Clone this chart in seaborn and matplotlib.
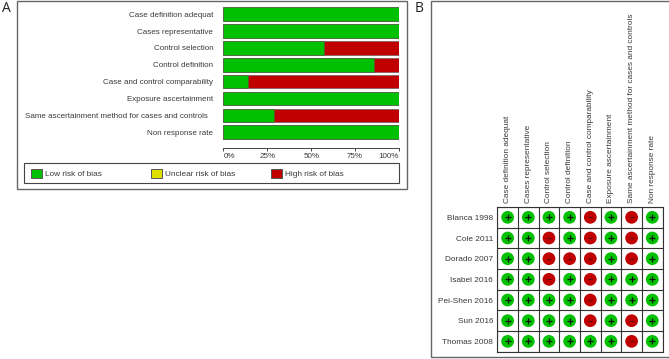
import matplotlib
matplotlib.use("Agg")
import matplotlib.pyplot as plt
from matplotlib.patches import Rectangle, Patch
from matplotlib.transforms import ScaledTranslation
import numpy as np
import pandas as pd
import seaborn as sns

domains = ["Case definition adequat", "Cases representative", "Control selection",
           "Control definition", "Case and control comparability", "Exposure ascertainment",
           "Same ascertainment method for cases and controls", "Non response rate"]
low_pct = [100, 100, 57.1, 85.7, 14.3, 100, 28.6, 100]
high_pct = [0, 0, 42.9, 14.3, 85.7, 0, 71.4, 0]
pct_ticks = [0, 25, 50, 75, 100]
pct_labels = ["0%", "25%", "50%", "75%", "100%"]
legend_labels = ["Low risk of bias", "Unclear risk of bias", "High risk of bias"]
studies = ["Blanca 1998", "Cole 2011", "Dorado 2007", "Isabel 2016",
           "Pei-Shen 2016", "Sun 2016", "Thomas 2008"]
blanca = ["+", "+", "+", "+", "-", "+", "-", "+"]
cole = ["+", "+", "-", "+", "-", "+", "-", "+"]
dorado = ["+", "+", "-", "-", "-", "+", "-", "+"]
isabel = ["+", "+", "-", "+", "-", "+", "+", "+"]
peishen = ["+", "+", "+", "+", "-", "+", "+", "+"]
sun = ["+", "+", "+", "+", "-", "+", "-", "+"]
thomas = ["+", "+", "+", "+", "+", "+", "-", "+"]
ratings = [blanca, cole, dorado, isabel, peishen, sun, thomas]

GREEN, YELLOW, RED = "#00C000", "#E0E000", "#C00000"
TEXT = "#3a3a3a"
W, H = 669, 359
FS_A = 5.8
FS_B = 5.95

sns.set_theme(style="white")
plt.rcParams["font.family"] = ["Liberation Sans", "DejaVu Sans"]
plt.rcParams["font.size"] = FS_A

fig = plt.figure(figsize=(W / 100, H / 100), dpi=100, facecolor="white")


def px_axes(x0, y0, x1, y1):
    return fig.add_axes([x0 / W, 1 - y1 / H, (x1 - x0) / W, (y1 - y0) / H])


def frame(x0, y0, x1, y1, **kw):
    fig.add_artist(Rectangle((x0 / W, 1 - y1 / H), (x1 - x0) / W, (y1 - y0) / H,
                             transform=fig.transFigure, fill=False, **kw))


frame(17, 0.8, 407.5, 189.2, edgecolor="#666666", linewidth=1.0)
frame(430.5, 1, 672, 357, edgecolor="#666666", linewidth=1.0)
fig.text(1.5 / W, 1 - 8.5 / H, "A", fontsize=10, color="#222222", va="center",
         family=["Open Sans", "DejaVu Sans"])
fig.text(414.5 / W, 1 - 8.5 / H, "B", fontsize=10, color="#222222", va="center",
         family=["Open Sans", "DejaVu Sans"])

# Panel A: stacked summary bars
ax = px_axes(223.3, 5.8, 399, 140.6)
total = [a + b for a, b in zip(low_pct, high_pct)]
df = pd.DataFrame({"domain": domains, "total": total, "low": low_pct})
sns.barplot(data=df, y="domain", x="total", color=RED, saturation=1, width=0.8,
            edgecolor="#555555", linewidth=0.4, ax=ax)
sns.barplot(data=df, y="domain", x="low", color=GREEN, saturation=1, width=0.8,
            edgecolor="#555555", linewidth=0.4, ax=ax)
ax.set_xlim(0, 100)
ax.set_xlabel("")
ax.set_ylabel("")
for s in ["top", "right", "left"]:
    ax.spines[s].set_visible(False)
ax.spines["bottom"].set_position(("outward", 5.4))
ax.spines["bottom"].set_color("#444444")
ax.spines["bottom"].set_linewidth(0.7)
ax.set_xticks(pct_ticks)
ax.set_xticklabels(pct_labels)
ax.tick_params(axis="x", bottom=True, length=2.5, width=0.7, color="#444444",
               labelsize=FS_A, labelcolor=TEXT, pad=1.0)
xlabels = ax.get_xticklabels()
xlabels[0].set_ha("left")
xlabels[-1].set_ha("right")
ax.tick_params(axis="y", left=False, length=0, labelsize=FS_A, labelcolor=TEXT, pad=7.2)
same = ax.get_yticklabels()[6]
same.set_transform(same.get_transform() + ScaledTranslation(-3.6 / 72, 0, fig.dpi_scale_trans))

# legend strip: one frame, three evenly spaced entries
frame(24.5, 163.3, 399.5, 183.3, edgecolor="#444444", linewidth=0.8)
for x, label, c in zip([31, 151, 271], legend_labels, (GREEN, YELLOW, RED)):
    fig.legend([Patch(facecolor=c, edgecolor="#555555", linewidth=0.7)], [label],
               loc="center left", bbox_to_anchor=(x / W, 1 - 173.3 / H),
               frameon=False, fontsize=FS_B, labelcolor=TEXT, borderaxespad=0, borderpad=0,
               handlelength=1.35, handleheight=1.35, handletextpad=0.3)

# Panel B: traffic-light grid
bx = px_axes(497.3, 207, 662.6, 351.7)
records = [{"study": i, "domain": j, "rating": r}
           for i, row in enumerate(ratings) for j, r in enumerate(row)]
grid = pd.DataFrame(records)
sns.scatterplot(data=grid, x="domain", y="study", hue="rating",
                palette={"+": GREEN, "-": RED}, s=84, linewidth=0, legend=False,
                ax=bx, clip_on=False, zorder=3)
sns.scatterplot(data=grid[grid.rating == "+"], x="domain", y="study", marker="+",
                color="#111111", s=14, linewidth=0.9, ax=bx, zorder=4)
sns.scatterplot(data=grid[grid.rating == "-"], x="domain", y="study", marker="_",
                color="#5a1010", s=12, linewidth=0.8, ax=bx, zorder=4)
bx.set_xlim(-0.5, len(domains) - 0.5)
bx.set_ylim(len(studies) - 0.5, -0.5)
bx.set_xlabel("")
bx.set_ylabel("")
bx.set_xticks(range(len(domains)))
bx.set_xticklabels(domains, rotation=90, ha="center", va="bottom")
bx.set_yticks(range(len(studies)))
bx.set_yticklabels(studies)
bx.xaxis.tick_top()
bx.tick_params(axis="both", length=0, labelsize=FS_B, labelcolor=TEXT, pad=3)
bx.set_xticks(np.arange(-0.5, len(domains)), minor=True)
bx.set_yticks(np.arange(-0.5, len(studies)), minor=True)
bx.grid(which="minor", color="#333333", linewidth=0.8)
bx.tick_params(which="minor", length=0)
bx.set_axisbelow(True)
for s in bx.spines.values():
    s.set_color("#333333")
    s.set_linewidth(0.8)

fig.savefig("out.png", dpi=100, facecolor="white")
